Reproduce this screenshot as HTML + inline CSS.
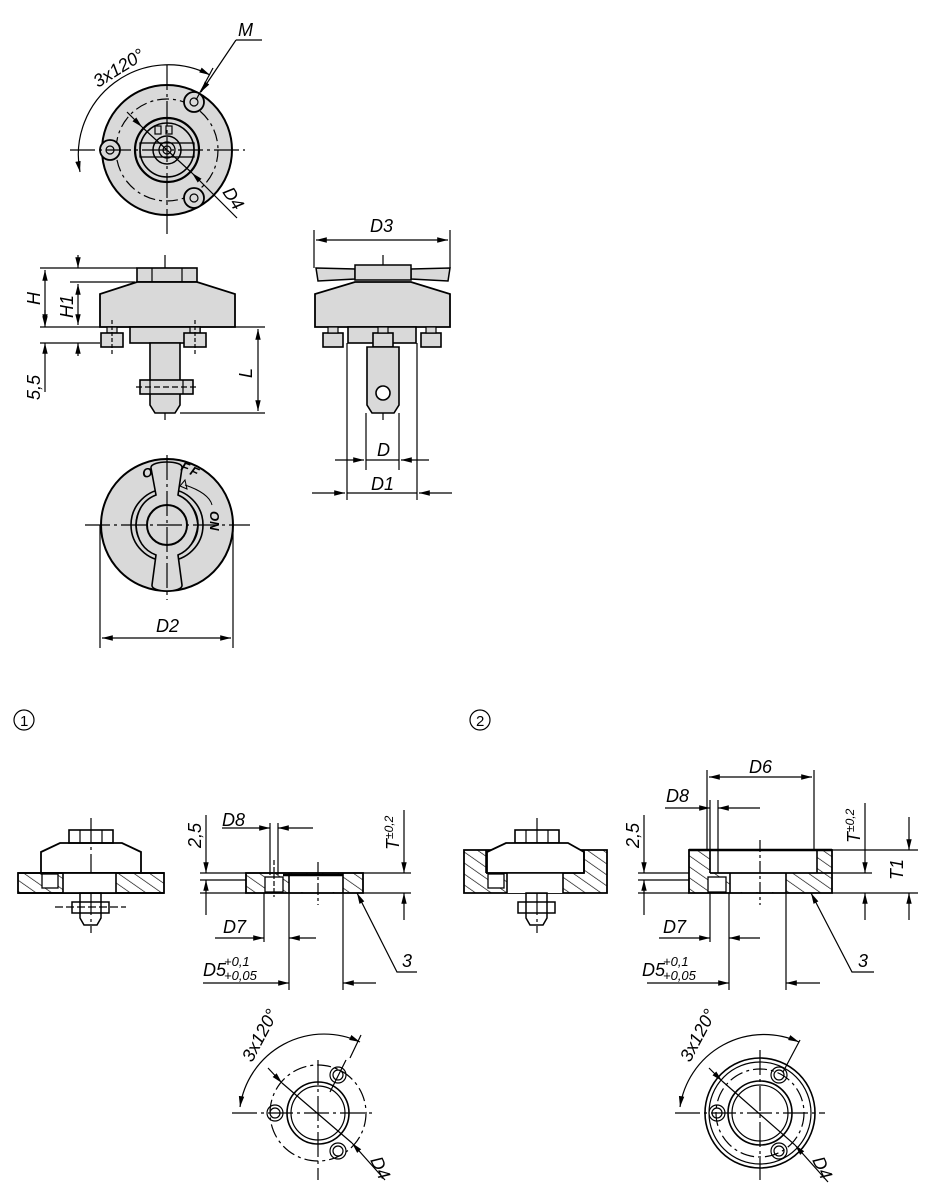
<!DOCTYPE html>
<html><head><meta charset="utf-8"><style>
html,body{margin:0;padding:0;background:#fff}
svg{display:block}
text{font-family:"Liberation Sans Narrow","Liberation Sans",sans-serif;font-style:italic;fill:#000}
</style></head><body>
<svg width="930" height="1200" viewBox="0 0 930 1200" xmlns="http://www.w3.org/2000/svg">
<defs>
<pattern id="h" width="9" height="9" patternUnits="userSpaceOnUse" patternTransform="rotate(-55)">
<rect width="9" height="9" fill="#fff"/><line x1="0" y1="0" x2="0" y2="9" stroke="#000" stroke-width="1.3"/>
</pattern>
<marker id="a" viewBox="0 0 12 10" refX="12" refY="5" markerWidth="11" markerHeight="9" orient="auto-start-reverse" markerUnits="userSpaceOnUse"><path d="M0,2 L12,5 L0,8 z" fill="#000"/></marker>
</defs>
<g stroke="#000" fill="none" stroke-width="1.2">

<!-- TOP VIEW -->
<circle cx="167" cy="150" r="65" fill="#d9d9d9" stroke-width="2"/>
<circle cx="167" cy="150" r="51" stroke-dasharray="12,4,3,4"/>
<circle cx="167" cy="150" r="32" stroke-width="2.2"/>
<circle cx="167" cy="150" r="27" stroke-width="1.6"/>
<circle cx="167" cy="150" r="14" stroke-width="1.5"/>
<circle cx="167" cy="150" r="8" stroke-width="1.3"/>
<circle cx="167" cy="150" r="4"/>
<rect x="140" y="143" width="54" height="14" stroke-width="1.3"/>
<rect x="155" y="126" width="6" height="8"/><rect x="166" y="126" width="6" height="8"/>
<g fill="#d9d9d9" stroke-width="1.8">
<circle cx="194" cy="102" r="10"/><circle cx="110" cy="150" r="10"/><circle cx="194" cy="198" r="10"/></g>
<circle cx="194" cy="102" r="4"/><circle cx="110" cy="150" r="4"/><circle cx="194" cy="198" r="4"/>
<line x1="70" y1="150" x2="245" y2="150" stroke-dasharray="25,4,3,4"/>
<line x1="167" y1="65" x2="167" y2="235" stroke-dasharray="25,4,3,4"/>
<path d="M80,172 A90,90 0 0 1 210,75" marker-start="url(#a)" marker-end="url(#a)"/>
<line x1="213" y1="68" x2="196" y2="100"/>
<line x1="236" y1="40" x2="201" y2="92" marker-end="url(#a)"/>
<line x1="236" y1="40" x2="262" y2="40"/>
<line x1="127" y1="112" x2="142" y2="127" marker-end="url(#a)"/>
<line x1="192" y1="173" x2="237" y2="218" marker-start="url(#a)"/>
<line x1="142" y1="127" x2="192" y2="173"/>

<!-- SIDE VIEW LEFT -->
<line x1="165" y1="255" x2="165" y2="420" stroke-dasharray="25,4,3,4"/>
<rect x="137" y="268" width="60" height="14" fill="#d9d9d9" stroke-width="1.6"/>
<line x1="152" y1="268" x2="152" y2="282"/><line x1="182" y1="268" x2="182" y2="282"/>
<path d="M137,282 L197,282 L235,294 L235,327 L100,327 L100,294 Z" fill="#d9d9d9" stroke-width="1.8"/>
<rect x="130" y="327" width="70" height="16" fill="#d9d9d9" stroke-width="1.6"/>
<rect x="107" y="327" width="10" height="6" fill="#d9d9d9"/><rect x="190" y="327" width="10" height="6" fill="#d9d9d9"/>
<rect x="101" y="333" width="22" height="14" fill="#d9d9d9" stroke-width="1.6"/>
<rect x="184" y="333" width="22" height="14" fill="#d9d9d9" stroke-width="1.6"/>
<path d="M150,343 L180,343 L180,405 L175,413 L155,413 L150,405 Z" fill="#d9d9d9" stroke-width="1.6"/>
<rect x="140" y="380" width="53" height="14" fill="#d9d9d9" stroke-width="1.6"/>
<line x1="150" y1="380" x2="150" y2="394"/><line x1="183" y1="380" x2="183" y2="394"/>
<line x1="136" y1="387" x2="197" y2="387" stroke-dasharray="6,3"/>
<line x1="112" y1="320" x2="112" y2="355" stroke-dasharray="4,2"/><line x1="195" y1="320" x2="195" y2="355" stroke-dasharray="4,2"/>
<line x1="40" y1="268" x2="137" y2="268"/><line x1="40" y1="327" x2="265" y2="327"/><line x1="40" y1="343" x2="100" y2="343"/>
<line x1="70" y1="282" x2="135" y2="282"/>
<line x1="45" y1="270" x2="45" y2="325" marker-start="url(#a)" marker-end="url(#a)"/>
<line x1="78" y1="255" x2="78" y2="268" marker-end="url(#a)"/>
<line x1="78" y1="284" x2="78" y2="325" marker-start="url(#a)" marker-end="url(#a)"/>
<line x1="78" y1="343" x2="78" y2="356" marker-start="url(#a)"/>
<line x1="45" y1="310" x2="45" y2="327" marker-end="url(#a)"/>
<line x1="45" y1="343" x2="45" y2="392" marker-start="url(#a)"/>
<line x1="180" y1="413" x2="265" y2="413"/>
<line x1="258" y1="329" x2="258" y2="411" marker-start="url(#a)" marker-end="url(#a)"/>

<!-- SIDE VIEW RIGHT -->
<line x1="383" y1="255" x2="383" y2="420" stroke-dasharray="25,4,3,4"/>
<path d="M316,268 L355,269 L355,279 L318,281 Z M411,269 L450,268 L448,281 L411,279 Z" fill="#d9d9d9" stroke-width="1.5"/>
<rect x="355" y="265" width="56" height="15" fill="#d9d9d9" stroke-width="1.5"/>
<path d="M355,282 L411,282 L450,294 L450,327 L315,327 L315,294 Z" fill="#d9d9d9" stroke-width="1.8"/>
<rect x="348" y="327" width="68" height="16" fill="#d9d9d9" stroke-width="1.6"/>
<rect x="323" y="333" width="20" height="14" fill="#d9d9d9" stroke-width="1.6"/>
<rect x="373" y="333" width="20" height="14" fill="#d9d9d9" stroke-width="1.6"/>
<rect x="421" y="333" width="20" height="14" fill="#d9d9d9" stroke-width="1.6"/>
<rect x="328" y="327" width="10" height="6" fill="#d9d9d9"/><rect x="378" y="327" width="10" height="6" fill="#d9d9d9"/><rect x="426" y="327" width="10" height="6" fill="#d9d9d9"/>
<path d="M367,347 L399,347 L399,405 L394,413 L372,413 L367,405 Z" fill="#d9d9d9" stroke-width="1.6"/>
<circle cx="383" cy="393" r="7" fill="#fff" stroke-width="1.6"/>
<line x1="314" y1="230" x2="314" y2="268"/><line x1="450" y1="230" x2="450" y2="268"/>
<line x1="316" y1="240" x2="448" y2="240" marker-start="url(#a)" marker-end="url(#a)"/>
<line x1="347" y1="343" x2="347" y2="470"/><line x1="417" y1="343" x2="417" y2="500"/>
<line x1="366" y1="413" x2="366" y2="470"/><line x1="399" y1="413" x2="399" y2="470"/>
<line x1="335" y1="460" x2="364" y2="460" marker-end="url(#a)"/>
<line x1="366" y1="460" x2="399" y2="460"/>
<line x1="429" y1="460" x2="401" y2="460" marker-end="url(#a)"/>
<line x1="312" y1="493" x2="345" y2="493" marker-end="url(#a)"/>
<line x1="347" y1="493" x2="417" y2="493"/><line x1="347" y1="470" x2="347" y2="500"/>
<line x1="452" y1="493" x2="419" y2="493" marker-end="url(#a)"/>

<!-- BOTTOM VIEW -->
<circle cx="167" cy="525" r="66" fill="#d9d9d9" stroke-width="2"/>
<circle cx="167" cy="525" r="36" stroke-width="1.6"/>
<circle cx="167" cy="525" r="31" stroke-width="1.6"/>
<path d="M151,468 C150,460 184,460 182,468 L178,495 C190,500 196,510 198,525 C196,540 190,550 178,555 L182,585 C183,593 151,593 152,585 L156,555 C143,550 137,540 136,525 C137,510 143,500 156,495 Z" fill="#d9d9d9" stroke-width="1.6"/>
<circle cx="167" cy="525" r="20" fill="#d9d9d9" stroke-width="2"/>
<line x1="85" y1="525" x2="250" y2="525" stroke-dasharray="25,4,3,4"/>
<line x1="167" y1="455" x2="167" y2="600" stroke-dasharray="25,4,3,4"/>
<path d="M185,485 C200,490 210,497 212,505" stroke-width="1"/>
<path d="M185,480 L180,486 L187,489 Z" stroke-width="1"/>
<line x1="100" y1="525" x2="100" y2="648"/><line x1="233" y1="525" x2="233" y2="648"/>
<line x1="102" y1="638" x2="231" y2="638" marker-start="url(#a)" marker-end="url(#a)"/>

<!-- SECTION 1 LEFT ASSEMBLY -->
<line x1="91" y1="818" x2="91" y2="933" stroke-dasharray="25,4,3,4"/>
<rect x="69" y="830" width="44" height="13" stroke-width="1.6"/>
<line x1="80" y1="830" x2="80" y2="843"/><line x1="102" y1="830" x2="102" y2="843"/>
<path d="M60,843 L122,843 L141,852 L141,873 L41,873 L41,852 Z" stroke-width="1.8"/>
<rect x="18" y="873" width="146" height="20" fill="url(#h)" stroke-width="1.8"/>
<rect x="63" y="873" width="53" height="20" fill="#fff" stroke="none"/>
<rect x="42" y="874" width="16" height="14" fill="#fff" stroke-width="1.3"/>
<line x1="63" y1="873" x2="63" y2="893" stroke-width="1.6"/><line x1="116" y1="873" x2="116" y2="893" stroke-width="1.6"/>
<line x1="18" y1="873" x2="164" y2="873" stroke-width="1.8"/><line x1="18" y1="893" x2="164" y2="893" stroke-width="1.8"/>
<path d="M80,893 L101,893 L101,918 L97,925 L84,925 L80,918 Z" stroke-width="1.5"/>
<rect x="72" y="902" width="37" height="11" stroke-width="1.5"/>
<line x1="55" y1="907" x2="126" y2="907" stroke-dasharray="8,3"/>

<!-- SECTION 1 PLATE -->
<rect x="246" y="873" width="117" height="20" fill="url(#h)" stroke-width="1.8"/>
<rect x="289" y="874" width="54" height="18" fill="#fff" stroke="none"/>
<line x1="289" y1="873" x2="289" y2="893" stroke-width="1.6"/><line x1="343" y1="873" x2="343" y2="893" stroke-width="1.6"/>
<rect x="265" y="877" width="18" height="15" fill="#fff" stroke-width="1.3"/>
<line x1="283" y1="875" x2="343" y2="875" stroke-width="2.5"/>
<line x1="318" y1="862" x2="318" y2="905" stroke-dasharray="12,3,3,3"/>
<line x1="274" y1="860" x2="274" y2="897" stroke-dasharray="5,2"/>
<line x1="200" y1="873" x2="411" y2="873"/><line x1="200" y1="880" x2="246" y2="880"/><line x1="363" y1="893" x2="411" y2="893"/>
<line x1="200" y1="893" x2="246" y2="893"/>
<line x1="206" y1="815" x2="206" y2="873" marker-end="url(#a)"/>
<line x1="206" y1="880" x2="206" y2="915" marker-start="url(#a)"/>
<line x1="270" y1="823" x2="270" y2="875"/><line x1="278" y1="823" x2="278" y2="875"/>
<line x1="222" y1="828" x2="270" y2="828" marker-end="url(#a)"/>
<line x1="313" y1="828" x2="278" y2="828" marker-end="url(#a)"/>
<line x1="404" y1="810" x2="404" y2="873" marker-end="url(#a)"/>
<line x1="404" y1="893" x2="404" y2="920" marker-start="url(#a)"/>
<line x1="264" y1="893" x2="264" y2="942"/><line x1="289" y1="893" x2="289" y2="990"/>
<line x1="215" y1="938" x2="264" y2="938" marker-end="url(#a)"/>
<line x1="316" y1="938" x2="289" y2="938" marker-end="url(#a)"/>
<line x1="343" y1="893" x2="343" y2="990"/>
<line x1="203" y1="983" x2="289" y2="983" marker-end="url(#a)"/>
<line x1="376" y1="983" x2="343" y2="983" marker-end="url(#a)"/>
<polyline points="417,972 397,972 357,893" marker-end="url(#a)"/>

<!-- SECTION 2 LEFT ASSEMBLY -->
<line x1="537" y1="818" x2="537" y2="933" stroke-dasharray="25,4,3,4"/>
<path d="M464,850 L607,850 L607,893 L464,893 Z" fill="url(#h)" stroke-width="1.8"/>
<rect x="486" y="851" width="98" height="22" fill="#fff" stroke="none"/>
<rect x="515" y="830" width="44" height="13" stroke-width="1.6"/>
<line x1="526" y1="830" x2="526" y2="843"/><line x1="548" y1="830" x2="548" y2="843"/>
<path d="M506,843 L568,843 L584,852 L584,873 L487,873 L487,852 Z" fill="#fff" stroke-width="1.8"/>
<rect x="507" y="873" width="56" height="20" fill="#fff" stroke="none"/>
<line x1="486" y1="850" x2="486" y2="873" stroke-width="1.6"/><line x1="584" y1="850" x2="584" y2="873" stroke-width="1.6"/>
<line x1="486" y1="873" x2="584" y2="873" stroke-width="1.6"/>
<line x1="507" y1="873" x2="507" y2="893" stroke-width="1.6"/><line x1="563" y1="873" x2="563" y2="893" stroke-width="1.6"/>
<rect x="488" y="874" width="16" height="14" fill="#fff" stroke-width="1.3"/>
<path d="M526,893 L547,893 L547,918 L543,925 L530,925 L526,918 Z" stroke-width="1.5"/>
<rect x="518" y="902" width="37" height="11" stroke-width="1.5"/>

<!-- SECTION 2 PLATE -->
<rect x="689" y="850" width="143" height="43" fill="url(#h)" stroke-width="1.8"/>
<rect x="710" y="851" width="107" height="22" fill="#fff" stroke="none"/>
<rect x="730" y="873" width="56" height="19" fill="#fff" stroke="none"/>
<line x1="710" y1="850" x2="710" y2="873" stroke-width="1.6"/><line x1="817" y1="850" x2="817" y2="873" stroke-width="1.6"/>
<line x1="689" y1="850" x2="832" y2="850" stroke-width="2.5"/>
<line x1="710" y1="873" x2="832" y2="873" stroke-width="1.8"/>
<line x1="730" y1="873" x2="730" y2="893" stroke-width="1.6"/><line x1="786" y1="873" x2="786" y2="893" stroke-width="1.6"/>
<rect x="708" y="877" width="18" height="15" fill="#fff" stroke-width="1.3"/>
<line x1="760" y1="840" x2="760" y2="905" stroke-dasharray="12,3,3,3"/>
<line x1="707" y1="770" x2="707" y2="850"/><line x1="814" y1="770" x2="814" y2="850"/>
<line x1="709" y1="777" x2="812" y2="777" marker-start="url(#a)" marker-end="url(#a)"/>
<line x1="710" y1="800" x2="710" y2="873"/><line x1="718" y1="800" x2="718" y2="873"/>
<line x1="665" y1="808" x2="710" y2="808" marker-end="url(#a)"/>
<line x1="760" y1="808" x2="718" y2="808" marker-end="url(#a)"/>
<line x1="638" y1="873" x2="689" y2="873"/><line x1="638" y1="880" x2="689" y2="880"/><line x1="638" y1="893" x2="689" y2="893"/>
<line x1="644" y1="815" x2="644" y2="873" marker-end="url(#a)"/>
<line x1="644" y1="880" x2="644" y2="915" marker-start="url(#a)"/>
<line x1="832" y1="850" x2="918" y2="850"/><line x1="832" y1="873" x2="872" y2="873"/><line x1="832" y1="893" x2="918" y2="893"/>
<line x1="865" y1="803" x2="865" y2="873" marker-end="url(#a)"/>
<line x1="865" y1="893" x2="865" y2="920" marker-start="url(#a)"/>
<line x1="909" y1="817" x2="909" y2="850" marker-end="url(#a)"/>
<line x1="909" y1="893" x2="909" y2="920" marker-start="url(#a)"/>
<line x1="710" y1="893" x2="710" y2="942"/><line x1="729" y1="893" x2="729" y2="990"/>
<line x1="659" y1="938" x2="710" y2="938" marker-end="url(#a)"/>
<line x1="760" y1="938" x2="729" y2="938" marker-end="url(#a)"/>
<line x1="786" y1="893" x2="786" y2="990"/>
<line x1="647" y1="983" x2="729" y2="983" marker-end="url(#a)"/>
<line x1="820" y1="983" x2="786" y2="983" marker-end="url(#a)"/>
<polyline points="874,972 852,972 811,893" marker-end="url(#a)"/>

<!-- BOTTOM CIRCLES 1 -->
<line x1="232" y1="1113" x2="375" y2="1113" stroke-dasharray="25,4,3,4"/>
<line x1="318" y1="1060" x2="318" y2="1180" stroke-dasharray="25,4,3,4"/>
<circle cx="318" cy="1113" r="31" stroke-width="1.6"/>
<circle cx="318" cy="1113" r="27" stroke-width="1.2"/>
<circle cx="318" cy="1113" r="48" stroke-dasharray="14,4,3,4"/>
<circle cx="338" cy="1075" r="8"/><circle cx="338" cy="1075" r="5"/>
<circle cx="275" cy="1113" r="8"/><circle cx="275" cy="1113" r="5"/>
<circle cx="338" cy="1151" r="8"/><circle cx="338" cy="1151" r="5"/>
<line x1="346" y1="1060" x2="330" y2="1092"/>
<path d="M240,1107 A85,85 0 0 1 360,1042" marker-start="url(#a)" marker-end="url(#a)"/>
<line x1="361" y1="1035" x2="350" y2="1058"/>
<line x1="268" y1="1068" x2="282" y2="1083" marker-end="url(#a)"/>
<line x1="282" y1="1083" x2="352" y2="1143"/>
<line x1="352" y1="1143" x2="385" y2="1180" marker-start="url(#a)"/>

<!-- BOTTOM CIRCLES 2 -->
<line x1="675" y1="1113" x2="825" y2="1113" stroke-dasharray="25,4,3,4"/>
<line x1="760" y1="1050" x2="760" y2="1180" stroke-dasharray="25,4,3,4"/>
<circle cx="760" cy="1113" r="55" stroke-width="1.6"/>
<circle cx="760" cy="1113" r="51" stroke-width="1.2"/>
<circle cx="760" cy="1113" r="44" stroke-dasharray="14,4,3,4"/>
<circle cx="760" cy="1113" r="32" stroke-width="1.6"/>
<circle cx="760" cy="1113" r="28" stroke-width="1.2"/>
<circle cx="779" cy="1075" r="8"/><circle cx="779" cy="1075" r="5"/>
<circle cx="717" cy="1113" r="8"/><circle cx="717" cy="1113" r="5"/>
<circle cx="779" cy="1151" r="8"/><circle cx="779" cy="1151" r="5"/>
<line x1="800" y1="1040" x2="783" y2="1072"/>
<path d="M680,1107 A85,85 0 0 1 799,1042" marker-start="url(#a)" marker-end="url(#a)"/>
<line x1="709" y1="1068" x2="722" y2="1081" marker-end="url(#a)"/>
<line x1="722" y1="1081" x2="795" y2="1145"/>
<line x1="795" y1="1145" x2="828" y2="1182" marker-start="url(#a)"/>
</g>

<!-- TEXT -->
<g font-size="18">
<text x="238" y="36">M</text>
<text transform="translate(98,88) rotate(-32)">3x120°</text>
<text transform="translate(222,192) rotate(57)">D4</text>
<text transform="translate(40,305) rotate(-90)">H</text>
<text transform="translate(73,318) rotate(-90)">H1</text>
<text transform="translate(40,400) rotate(-90)">5,5</text>
<text transform="translate(252,378) rotate(-90)">L</text>
<text x="370" y="232">D3</text>
<text x="377" y="456">D</text>
<text x="371" y="490">D1</text>
<text x="156" y="632">D2</text>
<text font-weight="bold" font-size="13" transform="translate(210,511) rotate(90)">ON</text>
<text font-weight="bold" font-size="13" transform="translate(143,478) rotate(-10)">O</text>
<text font-weight="bold" font-size="13" transform="translate(180,470) rotate(20)">F</text>
<text font-weight="bold" font-size="13" transform="translate(189,474) rotate(25)">F</text>
<text x="222" y="826">D8</text>
<text transform="translate(201,848) rotate(-90)">2,5</text>
<text transform="translate(399,850) rotate(-90)">T<tspan font-size="12" dy="-6">±0,2</tspan></text>
<text x="223" y="933">D7</text>
<text x="203" y="976">D5</text>
<text x="224" y="966" font-size="13">+0,1</text>
<text x="224" y="980" font-size="13">+0,05</text>
<text x="402" y="967">3</text>
<text x="666" y="802">D8</text>
<text x="749" y="773">D6</text>
<text transform="translate(639,848) rotate(-90)">2,5</text>
<text transform="translate(860,843) rotate(-90)">T<tspan font-size="12" dy="-6">±0,2</tspan></text>
<text transform="translate(903,880) rotate(-90)">T1</text>
<text x="663" y="933">D7</text>
<text x="642" y="976">D5</text>
<text x="663" y="966" font-size="13">+0,1</text>
<text x="663" y="980" font-size="13">+0,05</text>
<text x="858" y="967">3</text>
<text transform="translate(252,1063) rotate(-62)">3x120°</text>
<text transform="translate(370,1160) rotate(65)">D4</text>
<text transform="translate(690,1063) rotate(-62)">3x120°</text>
<text transform="translate(812,1160) rotate(65)">D4</text>
</g>
<g font-size="15">
<circle cx="24" cy="720" r="10" fill="none" stroke="#000" stroke-width="1.2"/>
<text x="20" y="726" style="font-style:normal">1</text>
<circle cx="480" cy="720" r="10" fill="none" stroke="#000" stroke-width="1.2"/>
<text x="476" y="726" style="font-style:normal">2</text>
</g>
</svg>
</body></html>
